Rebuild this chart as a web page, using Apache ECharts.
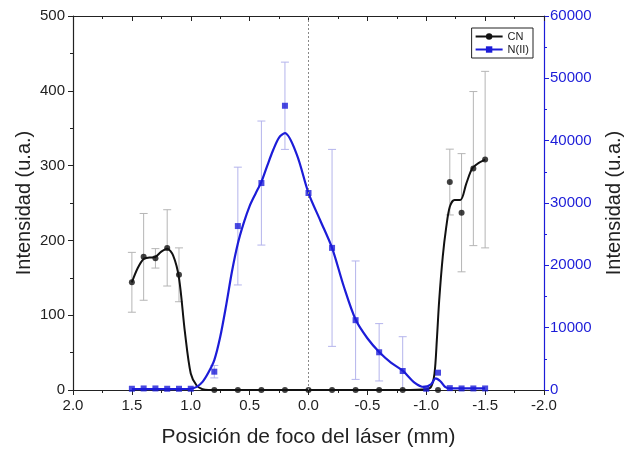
<!DOCTYPE html>
<html>
<head>
<meta charset="utf-8">
<script src="https://cdn.jsdelivr.net/npm/echarts@6/dist/echarts.min.js"></script>
<style>
  html, body { margin: 0; padding: 0; background: #fff; }
  #chart { width: 627px; height: 456px; }
</style>
</head>
<body>
<div id="chart"></div>
<script>
// CN: puntos medidos
const cnX = [1.5, 1.4, 1.3, 1.2, 1.1, 0.8, 0.6, 0.4, 0.2, 0, -0.2, -0.4, -0.6, -0.8, -1.1, -1.2, -1.3, -1.4, -1.5];
const cnY = [144, 178, 176, 190, 154, 0, 0, 0, 0, 0, 0, 0, 0, 0, 0, 278, 237, 296, 308];
const cnErr = [40, 58, 13, 51, 36, 0, 0, 0, 0, 0, 0, 0, 0, 0, 0, 44, 79, 103, 118];
// CN: curva ajustada
const cnFitX = [1.5, 1.45, 1.4, 1.35, 1.3, 1.25, 1.2, 1.15, 1.1, 1.05, 1.0, 0.95, 0.9, 0.85, 0.8, 0, -0.8, -1.0, -1.04, -1.07, -1.09, -1.11, -1.14, -1.17, -1.2, -1.24, -1.29, -1.34, -1.39, -1.44, -1.5];
const cnFitY = [144, 163, 175, 177, 178, 185, 189, 180, 150, 78, 22, 6, 1, 0, 0, 0, 0, 1, 4, 22, 67, 120, 178, 218, 245, 254, 254, 276, 296, 303, 308];

// N(II): puntos medidos
const nX = [1.5, 1.4, 1.3, 1.2, 1.1, 1.0, 0.8, 0.6, 0.4, 0.2, 0, -0.2, -0.4, -0.6, -0.8, -1.0, -1.1, -1.2, -1.3, -1.4, -1.5];
const nY = [200, 250, 250, 200, 200, 200, 2940, 26300, 33200, 45600, 31600, 22800, 11200, 6050, 3050, 200, 2780, 300, 250, 250, 250];
const nErr = [0, 0, 0, 0, 0, 0, 1000, 9450, 9950, 7000, 0, 15800, 9500, 4600, 5500, 0, 0, 0, 0, 0, 0];
// N(II): curva ajustada
const nFitX = [1.5, 1.3, 1.1, 1.0, 0.95, 0.9, 0.85, 0.8, 0.75, 0.7, 0.65, 0.6, 0.55, 0.5, 0.45, 0.4, 0.35, 0.3, 0.25, 0.2, 0.1, 0, -0.1, -0.2, -0.3, -0.4, -0.5, -0.6, -0.7, -0.8, -0.9, -0.98, -1.04, -1.08, -1.12, -1.16, -1.2, -1.3, -1.4, -1.5];
const nFitY = [150, 150, 150, 200, 500, 1300, 2800, 4800, 8500, 13500, 19000, 23500, 26800, 29500, 31500, 33400, 36000, 38500, 40500, 41200, 37800, 31600, 27200, 22800, 16600, 11300, 8300, 6100, 4400, 3100, 1200, 500, 900, 1850, 1400, 500, 250, 250, 250, 250];

const blue = '#1c1cd8';
const font = 'Liberation Sans, Arial, sans-serif';

const zip = (a, b) => a.map((v, i) => [v, b[i]]);
const errData = (xs, ys, es) => xs.map((v, i) => [v, ys[i], es[i]]).filter(d => d[2] > 0);

function errBar(color) {
  return function (params, api) {
    const x = api.value(0), y = api.value(1), e = api.value(2);
    const lo = api.coord([x, y - e]);
    const hi = api.coord([x, y + e]);
    const w = 4;
    const st = { stroke: color, lineWidth: 1 };
    return {
      type: 'group',
      children: [
        { type: 'line', shape: { x1: lo[0], y1: lo[1], x2: hi[0], y2: hi[1] }, style: st },
        { type: 'line', shape: { x1: hi[0] - w, y1: hi[1], x2: hi[0] + w, y2: hi[1] }, style: st },
        { type: 'line', shape: { x1: lo[0] - w, y1: lo[1], x2: lo[0] + w, y2: lo[1] }, style: st }
      ]
    };
  };
}

const chart = echarts.init(document.getElementById('chart'));
const xBase = {
  type: 'value', min: -2, max: 2, interval: 0.5, inverse: true,
  splitLine: { show: false },
  axisLine: { onZero: false, lineStyle: { color: '#222', width: 1.2 } },
  minorTick: { show: true, splitNumber: 2, length: 3, lineStyle: { color: '#222' } },
  axisTick: { length: 5, lineStyle: { color: '#222' } }
};
const option = {
  animation: false,
  textStyle: { fontFamily: font },
  grid: { left: 73, right: 83, top: 16, bottom: 66, outerBoundsMode: 'none', containLabel: false },
  legend: {
    right: 94, top: 28, orient: 'vertical', itemGap: 2,
    itemWidth: 27, itemHeight: 8,
    borderColor: '#222', borderWidth: 1, padding: [3, 4, 3, 3], borderRadius: 0,
    textStyle: { fontSize: 11, color: '#222', fontFamily: font },
    data: ['CN', 'N(II)']
  },
  xAxis: [
    Object.assign({}, xBase, {
      position: 'bottom',
      axisLabel: { fontSize: 15, color: '#222', margin: 8, formatter: v => v.toFixed(1) },
      name: 'Posición de foco del láser (mm)', nameLocation: 'middle', nameGap: 37, nameMoveOverlap: false,
      nameTextStyle: { fontSize: 21, color: '#222' }
    }),
    Object.assign({}, xBase, {
      position: 'top',
      axisLabel: { show: false },
      axisTick: { inside: true, length: 5, lineStyle: { color: '#222' } },
      minorTick: { show: true, splitNumber: 2, length: 3, lineStyle: { color: '#222' } }
    })
  ],
  yAxis: [
    {
      type: 'value', min: 0, max: 500, interval: 100, position: 'left',
      splitLine: { show: false },
      axisLine: { show: true, onZero: false, lineStyle: { color: '#222', width: 1.2 } },
      axisTick: { show: true, length: 5, lineStyle: { color: '#222' } },
      minorTick: { show: true, splitNumber: 2, length: 3, lineStyle: { color: '#222' } },
      axisLabel: { fontSize: 15, color: '#222', margin: 8 },
      name: 'Intensidad (u.a.)', nameLocation: 'middle', nameGap: 39, nameMoveOverlap: false,
      nameTextStyle: { fontSize: 20, color: '#222' }
    },
    {
      type: 'value', min: 0, max: 60000, interval: 10000, position: 'right',
      splitLine: { show: false },
      axisLine: { show: true, onZero: false, lineStyle: { color: blue, width: 1.2 } },
      axisTick: { show: true, length: 5, lineStyle: { color: blue } },
      minorTick: { show: true, splitNumber: 2, length: 3, lineStyle: { color: blue } },
      axisLabel: { fontSize: 15, color: blue, margin: 6, formatter: v => String(v) },
      name: 'Intensidad (u.a.)', nameLocation: 'middle', nameGap: 60, nameRotate: 90, nameMoveOverlap: false,
      nameTextStyle: { fontSize: 20, color: '#222' }
    }
  ],
  series: [
    {
      type: 'custom', name: 'errN', yAxisIndex: 1, clip: true, silent: true,
      renderItem: errBar('#b4b4ec'), data: errData(nX, nY, nErr), z: 1
    },
    {
      type: 'custom', name: 'errCN', yAxisIndex: 0, clip: true, silent: true,
      renderItem: errBar('#b5b5b5'), data: errData(cnX, cnY, cnErr), z: 1
    },
    {
      type: 'line', name: 'CN', yAxisIndex: 0, data: zip(cnFitX, cnFitY),
      smooth: 0.3, showSymbol: false, symbol: 'circle', symbolSize: 6,
      lineStyle: { color: '#111', width: 2 }, itemStyle: { color: '#111' }, z: 3,
      markLine: {
        silent: true, symbol: 'none', label: { show: false },
        lineStyle: { color: '#888', type: [2, 2], width: 1 },
        data: [{ xAxis: 0 }]
      }
    },
    {
      type: 'line', name: 'N(II)', yAxisIndex: 1, data: zip(nFitX, nFitY),
      smooth: 0.3, showSymbol: false, symbol: 'rect', symbolSize: 6,
      lineStyle: { color: blue, width: 2.2 }, itemStyle: { color: blue }, z: 3
    },
    {
      type: 'scatter', name: 'ptCN', yAxisIndex: 0, data: zip(cnX, cnY),
      symbol: 'circle', symbolSize: 6, itemStyle: { color: '#111' }, z: 4
    },
    {
      type: 'scatter', name: 'ptN', yAxisIndex: 1, data: zip(nX, nY),
      symbol: 'rect', symbolSize: 6, itemStyle: { color: blue }, z: 4
    }
  ]
};
chart.setOption(option);
</script>
</body>
</html>
